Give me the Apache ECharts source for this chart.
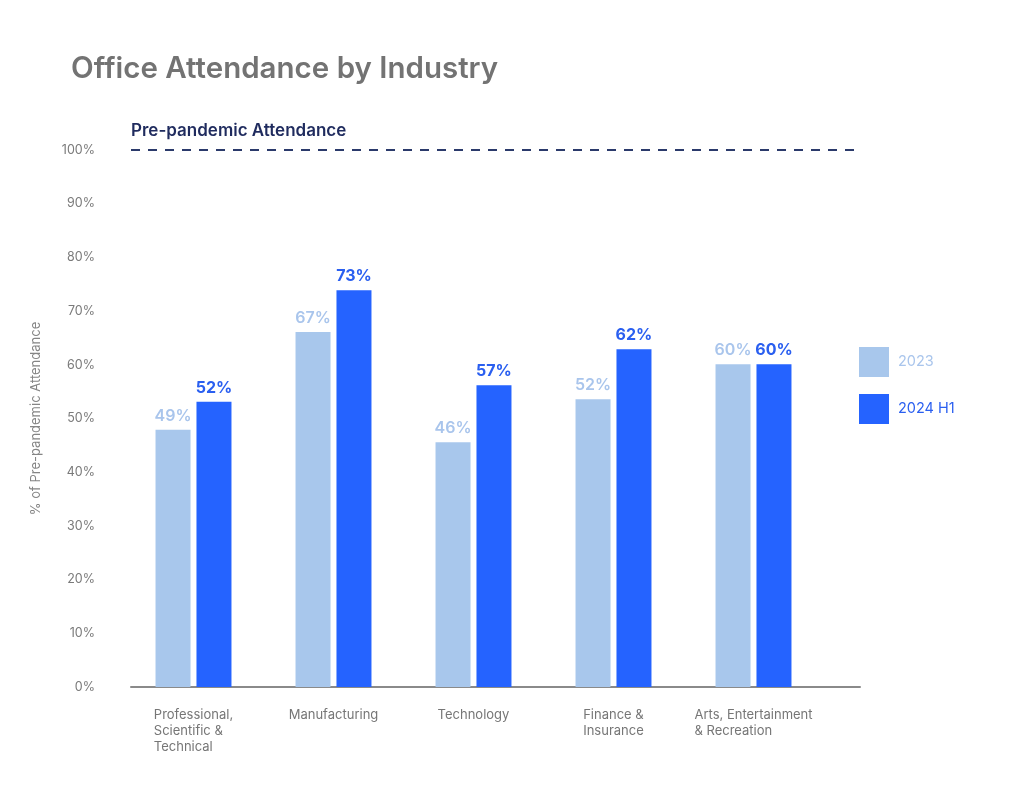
<!DOCTYPE html>
<html>
<head>
<meta charset="utf-8">
<script src="https://cdn.jsdelivr.net/npm/echarts@6/dist/echarts.min.js"></script>
<style>
html,body{margin:0;padding:0;background:#fff;}
#chart{width:1024px;height:787px;}
</style>
</head>
<body>
<div id="chart"></div>
<script>
const categories = [
  ['Professional,', 'Scientific &', 'Technical'],
  ['Manufacturing'],
  ['Technology'],
  ['Finance &', 'Insurance'],
  ['Arts, Entertainment', '& Recreation']
];
const seriesNames = ['2023', '2024 H1'];
const values2023 = [47.9, 66.1, 45.6, 53.6, 60.1];
const values2024 = [53.1, 73.9, 56.2, 62.9, 60.1];
const labels2023 = ['49%', '67%', '46%', '52%', '60%'];
const labels2024 = ['52%', '73%', '57%', '62%', '60%'];
const yTicks = [0, 10, 20, 30, 40, 50, 60, 70, 80, 90, 100];
const referenceLevel = 100;

const FONT = 'Inter, "Noto Sans", sans-serif';
const LIGHT = '#a8c7ec';
const DARK = '#2563ff';

const chart = echarts.init(document.getElementById('chart'), null, {renderer: 'canvas'});
const catKeys = categories.map(c => c.join('\n'));

chart.setOption({
  animation: false,
  backgroundColor: '#ffffff',
  textStyle: {fontFamily: FONT},
  title: [
    {
      text: 'Office Attendance by Industry',
      left: 66, top: 49,
      textStyle: {fontFamily: FONT, fontSize: 29.5, fontWeight: 600, color: '#737373'}
    },
    {
      text: 'Pre-pandemic Attendance',
      left: 126, top: 117,
      textStyle: {fontFamily: FONT, fontSize: 17, fontWeight: 600, color: '#1f2b5e'}
    }
  ],
  legend: {
    orient: 'vertical',
    left: 854, top: 342,
    itemWidth: 30, itemHeight: 30, itemGap: 17,
    icon: 'rect',
    textStyle: {fontFamily: FONT, fontSize: 14.5, padding: [0, 0, 0, 4]},
    data: [
      {name: seriesNames[0], textStyle: {color: '#a9c5ec'}},
      {name: seriesNames[1], textStyle: {color: '#2a5ff0'}}
    ]
  },
  grid: [
    {left: 131, top: 150, width: 729, height: 537},
    {left: 123.5, top: 150, width: 700, height: 537}
  ],
  xAxis: [
    {
      gridIndex: 0, type: 'value', min: 0, max: 1,
      axisLine: {show: true, lineStyle: {color: '#8a8a8a', width: 2}},
      axisTick: {show: false}, axisLabel: {show: false}, splitLine: {show: false}
    },
    {
      gridIndex: 1, type: 'category', data: catKeys,
      axisLine: {show: false}, axisTick: {show: false}, splitLine: {show: false},
      axisLabel: {
        interval: 0, margin: 20,
        formatter: v => '{a|' + v + '}',
        rich: {a: {fontFamily: FONT, fontSize: 13, lineHeight: 16, color: '#767676', align: 'left'}}
      }
    }
  ],
  yAxis: [
    {
      gridIndex: 0, type: 'value', min: 0, max: 100, interval: 10,
      axisLine: {show: false}, axisTick: {show: false}, splitLine: {show: false},
      axisLabel: {formatter: '{value}%', margin: 36, fontFamily: FONT, fontSize: 12.5, color: '#7a7a7a'},
      name: '% of Pre-pandemic Attendance',
      nameLocation: 'middle', nameGap: 88, nameRotate: 90,
      nameTextStyle: {fontFamily: FONT, fontSize: 13, color: '#858585'}
    },
    {
      gridIndex: 1, type: 'value', min: 0, max: 100, show: false
    }
  ],
  series: [
    {
      type: 'line', xAxisIndex: 0, yAxisIndex: 0, data: [], silent: true,
      markLine: {
        symbol: 'none', silent: true,
        label: {show: false},
        lineStyle: {color: '#2b3a6b', width: 2, type: [9, 8]},
        data: [{yAxis: referenceLevel}]
      }
    },
    {
      name: seriesNames[0], type: 'bar', xAxisIndex: 1, yAxisIndex: 1,
      data: values2023, barWidth: 35, barGap: '17%',
      itemStyle: {color: LIGHT},
      label: {
        show: true, position: 'top', distance: 6,
        formatter: p => labels2023[p.dataIndex],
        fontFamily: FONT, fontSize: 16, fontWeight: 600, color: '#a9c5ec'
      }
    },
    {
      name: seriesNames[1], type: 'bar', xAxisIndex: 1, yAxisIndex: 1,
      data: values2024, barWidth: 35,
      itemStyle: {color: DARK},
      label: {
        show: true, position: 'top', distance: 6,
        formatter: p => labels2024[p.dataIndex],
        fontFamily: FONT, fontSize: 16, fontWeight: 700, color: '#2a5ff0'
      }
    }
  ]
});
</script>
</body>
</html>
